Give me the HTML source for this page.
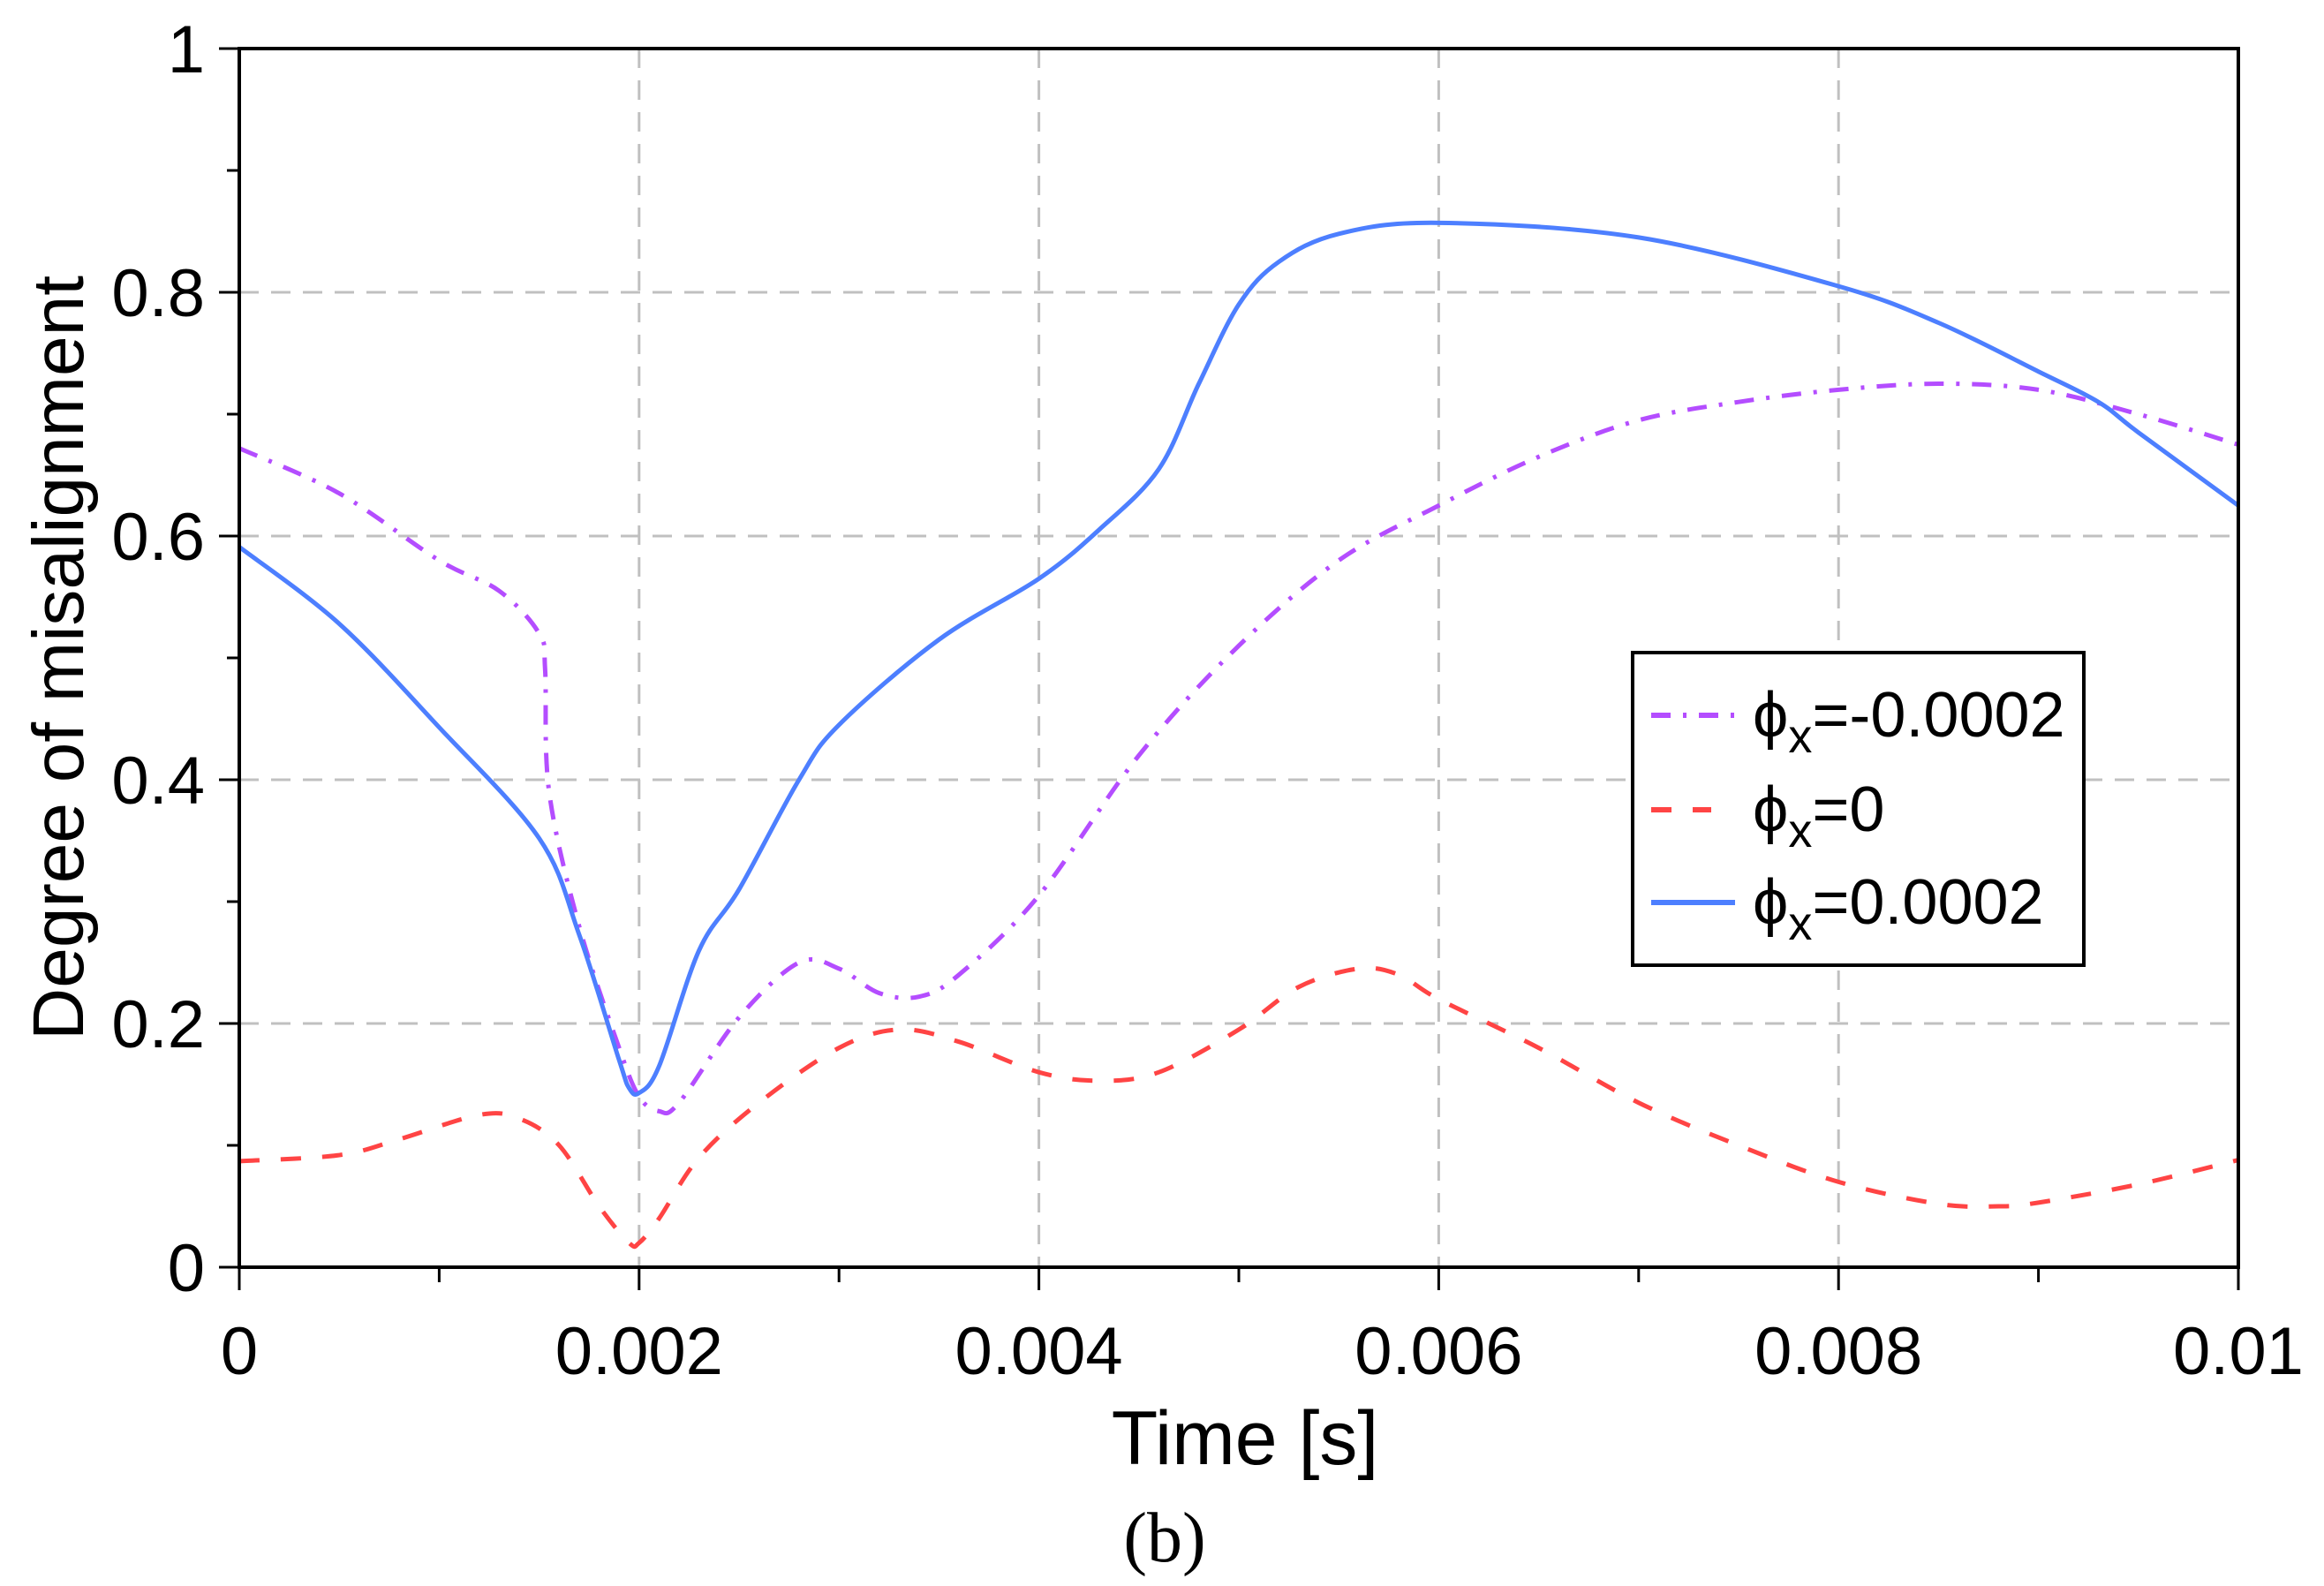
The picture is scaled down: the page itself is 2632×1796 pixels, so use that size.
<!DOCTYPE html>
<html><head><meta charset="utf-8"><style>
html,body{margin:0;padding:0;background:#fff;}
svg{display:block;}
text{font-family:"Liberation Sans",sans-serif;fill:#000;}
</style></head><body>
<svg id="chart" width="2632" height="1796" viewBox="0 0 2632 1796" xmlns="http://www.w3.org/2000/svg">
<g id="grid"></g>
<g id="series"></g>
<g id="axes"></g>
<text x="1410" y="1658" font-size="86" text-anchor="middle">Time [s]</text>
<text transform="translate(94,745) rotate(-90)" font-size="82" text-anchor="middle">Degree of misalignment</text>
<text x="1319" y="1768" font-size="80" text-anchor="middle" style="font-family:'Liberation Serif',serif">(b)</text>
<g>
<rect x="1849" y="739" width="511" height="354" fill="#fff" stroke="#000" stroke-width="4"/>
<g>
<line x1="1870" y1="810" x2="1965" y2="810" stroke="#b44dff" stroke-width="6" stroke-dasharray="22,14,4,14"/>
<text x="1985" y="834" font-size="72">ϕ<tspan font-size="54" dy="18">x</tspan><tspan dy="-18">=-0.0002</tspan></text></g>
<g>
<line x1="1870" y1="917" x2="1938" y2="917" stroke="#ff4444" stroke-width="6" stroke-dasharray="23,24"/>
<text x="1985" y="941" font-size="72">ϕ<tspan font-size="54" dy="18">x</tspan><tspan dy="-18">=0</tspan></text></g>
<g>
<line x1="1870" y1="1022" x2="1965" y2="1022" stroke="#4d7fff" stroke-width="6"/>
<text x="1985" y="1046" font-size="72">ϕ<tspan font-size="54" dy="18">x</tspan><tspan dy="-18">=0.0002</tspan></text></g>
</g>
</svg>
<script>
const xTicks=[0,0.002,0.004,0.006,0.008,0.01];
const xTickLabels=["0","0.002","0.004","0.006","0.008","0.01"];
const yTicks=[0,0.2,0.4,0.6,0.8,1];
const yTickLabels=["0","0.2","0.4","0.6","0.8","1"];
const tPos=[0,0.0005,0.001,0.0015,0.0017,0.0019,0.00195,0.002,0.0021,0.0023,0.0025,0.0028,0.003,0.0035,0.004,0.0043,0.0046,0.0048,0.005,0.0052,0.0055,0.006,0.007,0.008,0.0085,0.009,0.0093,0.0095,0.01];
const yPos=[0.591,0.528,0.443,0.352,0.273,0.17,0.147,0.143,0.165,0.26,0.31,0.40,0.445,0.515,0.565,0.605,0.655,0.725,0.79,0.825,0.848,0.857,0.845,0.805,0.775,0.735,0.71,0.685,0.625];
const tNeg=[0,0.0005,0.001,0.0013,0.0015,0.00153,0.00155,0.0017,0.0019,0.002,0.0021,0.0022,0.0025,0.0028,0.003,0.0032,0.0034,0.0036,0.004,0.0045,0.005,0.0055,0.006,0.0065,0.007,0.0075,0.008,0.0085,0.009,0.0095,0.01];
const yNeg=[0.672,0.635,0.58,0.555,0.52,0.49,0.39,0.28,0.18,0.14,0.128,0.135,0.205,0.25,0.245,0.225,0.222,0.24,0.305,0.42,0.51,0.58,0.625,0.665,0.695,0.71,0.72,0.725,0.72,0.70,0.675];
const tZero=[0,0.0005,0.0008,0.0012,0.0014,0.0016,0.0018,0.00195,0.002,0.0021,0.0023,0.0026,0.003,0.0033,0.0036,0.004,0.0043,0.0046,0.005,0.0053,0.0056,0.0058,0.006,0.0065,0.007,0.0075,0.008,0.0085,0.0088,0.009,0.0095,0.01];
const yZero=[0.087,0.092,0.105,0.125,0.122,0.10,0.05,0.02,0.02,0.04,0.09,0.135,0.18,0.195,0.185,0.16,0.153,0.16,0.195,0.23,0.245,0.24,0.22,0.18,0.135,0.10,0.07,0.052,0.05,0.053,0.068,0.088];

const X0=271,X1=2535,Y0=1435,Y1=55;
const sx=v=>X0+(v-0)/(0.01-0)*(X1-X0);
const sy=v=>Y0-(v-0)/(1-0)*(Y0-Y1);
const NS="http://www.w3.org/2000/svg";
function mk(tag,attrs,parent){const e=document.createElementNS(NS,tag);for(const k in attrs)e.setAttribute(k,attrs[k]);parent.appendChild(e);return e;}
const grid=document.getElementById('grid'),axes=document.getElementById('axes'),series=document.getElementById('series');
xTicks.forEach((v,i)=>{
  if(i>0&&i<xTicks.length-1){const g=mk('line',{x1:sx(v),x2:sx(v),y1:Y1,y2:Y0,stroke:'#c0c0c0','stroke-width':3,'stroke-dasharray':'22,14'},grid);
  
  }
  const t=mk('line',{x1:sx(v),x2:sx(v),y1:Y0,y2:Y0+26,stroke:'#000','stroke-width':3},axes);
  
  
  const l=mk('text',{x:sx(v),y:1556,'font-size':76,'text-anchor':'middle'},axes);l.textContent=xTickLabels[i];
  
  
});
for(let i=0;i<xTicks.length-1;i++){const v=(xTicks[i]+xTicks[i+1])/2;
  const t=mk('line',{x1:sx(v),x2:sx(v),y1:Y0,y2:Y0+17,stroke:'#000','stroke-width':3},axes);
  
  }
yTicks.forEach((v,i)=>{
  if(i>0&&i<yTicks.length-1){const g=mk('line',{x1:X0,x2:X1,y1:sy(v),y2:sy(v),stroke:'#c0c0c0','stroke-width':3,'stroke-dasharray':'22,14'},grid);
  
  }
  const t=mk('line',{x1:X0-23,x2:X0,y1:sy(v),y2:sy(v),stroke:'#000','stroke-width':3},axes);
  
  
  const l=mk('text',{x:232,y:sy(v)+27,'font-size':76,'text-anchor':'end'},axes);l.textContent=yTickLabels[i];
  
  
});
for(let i=0;i<yTicks.length-1;i++){const v=(yTicks[i]+yTicks[i+1])/2;
  const t=mk('line',{x1:X0-14,x2:X0,y1:sy(v),y2:sy(v),stroke:'#000','stroke-width':3},axes);
  
  }
const frame=mk('rect',{x:X0,y:Y1,width:X1-X0,height:Y0-Y1,fill:'none',stroke:'#000','stroke-width':4},axes);


function pathD(ts,ys){const p=ts.map((t,i)=>[sx(t),sy(ys[i])]);let d='M'+p[0][0]+','+p[0][1];
  for(let i=0;i<p.length-1;i++){const a=p[Math.max(i-1,0)],b=p[i],c=p[i+1],e=p[Math.min(i+2,p.length-1)];
    d+=' C'+(b[0]+(c[0]-a[0])/6)+','+(b[1]+(c[1]-a[1])/6)+' '+(c[0]-(e[0]-b[0])/6)+','+(c[1]-(e[1]-b[1])/6)+' '+c[0]+','+c[1];}
  return d;}
const pz=mk('path',{d:pathD(tZero,yZero),fill:'none',stroke:'#ff4444','stroke-width':5,'stroke-dasharray':'23,24'},series);


const pn=mk('path',{d:pathD(tNeg,yNeg),fill:'none',stroke:'#b44dff','stroke-width':5,'stroke-dasharray':'22,14,4,14'},series);


const pp=mk('path',{d:pathD(tPos,yPos),fill:'none',stroke:'#4d7fff','stroke-width':5},series);


</script>
</body></html>
